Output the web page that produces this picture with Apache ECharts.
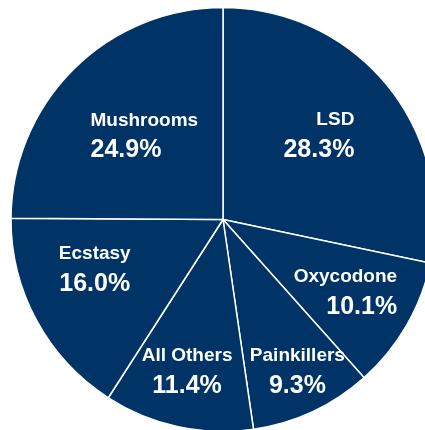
<!DOCTYPE html>
<html>
<head>
<meta charset="utf-8">
<script src="https://cdn.jsdelivr.net/npm/echarts@6/dist/echarts.min.js"></script>
<style>
  html, body { margin: 0; padding: 0; background: #fff; }
  #chart { width: 425px; height: 430px; }
</style>
</head>
<body>
<div id="chart"></div>
<script>
// ---- data ----
var categories = ['LSD', 'Oxycodone', 'Painkillers', 'All Others', 'Ecstasy', 'Mushrooms'];
var shares = [28.3, 10.1, 9.3, 11.4, 16.0, 24.9];

// ---- label styling (fraction of radius, angular nudge in degrees, text alignment) ----
var labelDist = [0.60, 0.674, 0.80, 0.74, 0.65, 0.54];
var labelShift = [-2, 1, -1, 1, 7, 1.4];
var labelAlign = ['right', 'right', 'center', 'center', 'center', 'left'];

var CX = 223, CY = 219.5, R = 212;

var total = shares.reduce(function (a, b) { return a + b; }, 0);
var midAngles = [];
var acc = 0;
shares.forEach(function (v) {
  midAngles.push((acc + v / 2) / total * 360);
  acc += v;
});

var data = categories.map(function (c, i) {
  return {
    name: c,
    value: shares[i],
    label: {
      rich: {
        n: { fontFamily: 'Liberation Sans, Arial, sans-serif', fontWeight: 'bold', fontSize: 19, color: '#fff', lineHeight: 28, align: labelAlign[i] },
        p: { fontFamily: 'Liberation Sans, Arial, sans-serif', fontWeight: 'bold', fontSize: 25, color: '#fff', lineHeight: 32, align: labelAlign[i] }
      }
    }
  };
});

var chart = echarts.init(document.getElementById('chart'), null, { renderer: 'canvas' });
chart.setOption({
  animation: false,
  backgroundColor: '#ffffff',
  series: [{
    type: 'pie',
    center: [CX, CY],
    radius: R,
    startAngle: 90,
    clockwise: true,
    silent: true,
    data: data,
    itemStyle: { color: '#003366', borderColor: '#ffffff', borderWidth: 1.5 },
    label: {
      show: true,
      position: 'inside',
      formatter: function (p) { return '{n|' + p.name + '}\n{p|' + p.value.toFixed(1) + '%}'; }
    },
    labelLine: { show: false },
    labelLayout: function (params) {
      var i = params.dataIndex;
      var a = (midAngles[i] + labelShift[i]) * Math.PI / 180;
      var d = labelDist[i] * R;
      return {
        x: CX + d * Math.sin(a),
        y: CY - d * Math.cos(a),
        align: 'center',
        verticalAlign: 'middle'
      };
    }
  }]
});
</script>
</body>
</html>
